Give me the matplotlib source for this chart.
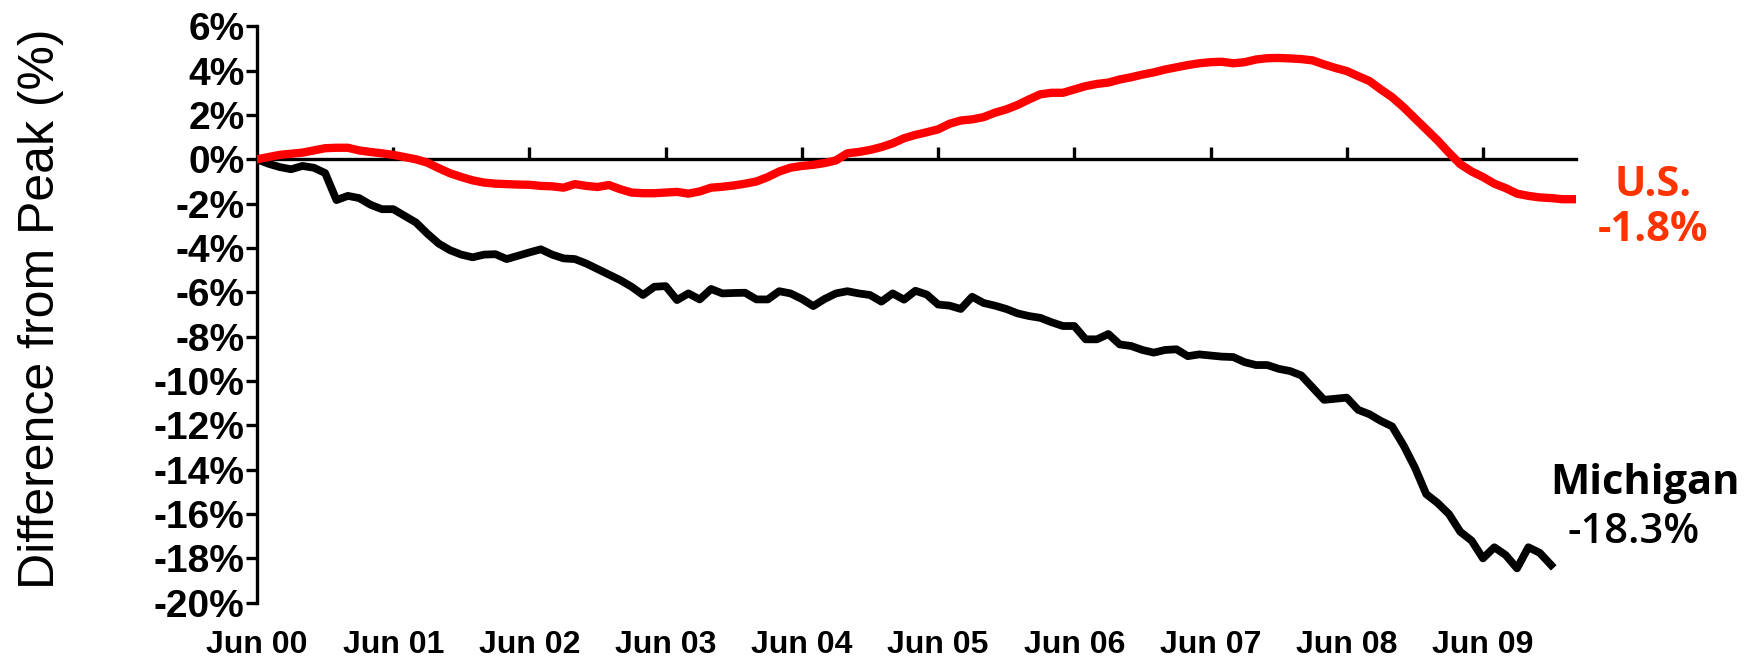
import matplotlib
matplotlib.use("Agg")
import matplotlib.pyplot as plt

# monthly, Jun 2000 = month 0
us_pct = [0.0, 0.1, 0.2, 0.25, 0.3, 0.4, 0.5, 0.52, 0.52, 0.4,
          0.33, 0.27, 0.2, 0.1, 0.0, -0.15, -0.4, -0.63, -0.8, -0.95,
          -1.05, -1.1, -1.12, -1.14, -1.15, -1.2, -1.22, -1.28, -1.12, -1.2,
          -1.25, -1.16, -1.35, -1.5, -1.53, -1.53, -1.5, -1.47, -1.55, -1.45,
          -1.28, -1.24, -1.18, -1.1, -1.0, -0.8, -0.55, -0.38, -0.3, -0.25,
          -0.17, -0.05, 0.27, 0.33, 0.42, 0.55, 0.72, 0.95, 1.1, 1.22,
          1.35, 1.6, 1.75, 1.8, 1.9, 2.1, 2.25, 2.45, 2.7, 2.93,
          3.0, 3.0, 3.15, 3.3, 3.4, 3.46, 3.6, 3.7, 3.82, 3.92,
          4.05, 4.15, 4.25, 4.33, 4.38, 4.4, 4.33, 4.38, 4.5, 4.56,
          4.57, 4.55, 4.52, 4.46, 4.28, 4.12, 3.98, 3.75, 3.53, 3.15,
          2.8, 2.35, 1.85, 1.35, 0.85, 0.3, -0.22, -0.55, -0.8, -1.1,
          -1.3, -1.55, -1.65, -1.72, -1.75, -1.8, -1.8]

michigan_pct = [0.0, -0.2, -0.35, -0.45, -0.3, -0.38, -0.62, -1.84, -1.65, -1.75,
                -2.05, -2.25, -2.25, -2.55, -2.85, -3.35, -3.8, -4.1, -4.3, -4.42,
                -4.3, -4.28, -4.5, -4.35, -4.2, -4.06, -4.3, -4.47, -4.5, -4.7,
                -4.95, -5.2, -5.45, -5.75, -6.12, -5.75, -5.72, -6.35, -6.05, -6.32,
                -5.85, -6.05, -6.03, -6.02, -6.32, -6.32, -5.95, -6.05, -6.3, -6.62,
                -6.3, -6.05, -5.95, -6.05, -6.12, -6.42, -6.05, -6.33, -5.93, -6.1,
                -6.55, -6.6, -6.75, -6.2, -6.48, -6.6, -6.75, -6.95, -7.07, -7.15,
                -7.35, -7.52, -7.52, -8.12, -8.12, -7.88, -8.35, -8.42, -8.6, -8.72,
                -8.6, -8.57, -8.88, -8.8, -8.85, -8.9, -8.92, -9.15, -9.28, -9.28,
                -9.45, -9.55, -9.75, -10.3, -10.85, -10.8, -10.75, -11.3, -11.5, -11.8,
                -12.05, -12.9, -13.9, -15.1, -15.5, -16.0, -16.8, -17.2, -18.0, -17.5,
                -17.85, -18.45, -17.5, -17.75, -18.3]

tick_labels = ["Jun 00", "Jun 01", "Jun 02", "Jun 03", "Jun 04",
               "Jun 05", "Jun 06", "Jun 07", "Jun 08", "Jun 09"]
y_ticks = [6, 4, 2, 0, -2, -4, -6, -8, -10, -12, -14, -16, -18, -20]

plt.rcParams['font.family'] = ['Liberation Sans', 'DejaVu Sans']

fig = plt.figure(figsize=(17.58, 6.6), dpi=100)
ax = fig.add_axes([0.1462, 0.0868, 0.7503, 0.8734])

ax.plot(range(len(michigan_pct)), michigan_pct, color='black', lw=5.6, solid_joinstyle='round', zorder=3)
ax.plot(range(len(us_pct)), us_pct, color='#ff0000', lw=6, solid_joinstyle='round', zorder=4)

ax.set_xlim(0, 116.2)
ax.set_ylim(-20, 6)

for s in ['top', 'right', 'bottom']:
    ax.spines[s].set_visible(False)
ax.spines['left'].set_linewidth(2.4)

ax.set_yticks(y_ticks)
ax.set_yticklabels([f"{v}%" for v in y_ticks], fontsize=28, fontweight='bold')
ax.tick_params(axis='y', direction='out', length=8, width=2.4, pad=1)

month_ticks = [12 * i for i in range(len(tick_labels))]
ax.set_xticks(month_ticks)
ax.set_xticklabels(tick_labels, fontsize=23, fontweight='bold')
ax.tick_params(axis='x', length=0, pad=20)

# zero line carrying the tick marks
zero_axis = ax.secondary_xaxis(20 / 26)
zero_axis.set_xticks(month_ticks[1:])
zero_axis.set_xticklabels([])
zero_axis.tick_params(axis='x', direction='out', length=9, width=2.4)
for s in zero_axis.spines.values():
    s.set_linewidth(2.4)

ax.set_ylabel("Difference from Peak (%)", fontsize=36)
ax.yaxis.set_label_coords(-0.146, 0.51)

ann_font = ['Open Sans', 'DejaVu Sans']
ax.text(123, -1.16, "U.S.", color='#ff3300', fontsize=30, fontweight='bold',
        family=ann_font, ha='center', va='center', clip_on=False)
ax.text(123, -3.21, "-1.8%", color='#ff3300', fontsize=30, fontweight='bold',
        family=ann_font, ha='center', va='center', clip_on=False)
ax.text(122.3, -14.62, "Michigan", color='black', fontsize=30, fontweight='bold',
        family=ann_font, ha='center', va='center', clip_on=False)
ax.text(121.3, -16.79, "-18.3%", color='black', fontsize=30, fontweight='semibold',
        family=ann_font, ha='center', va='center', clip_on=False)

fig.savefig("out.png", dpi=100, facecolor='white')
